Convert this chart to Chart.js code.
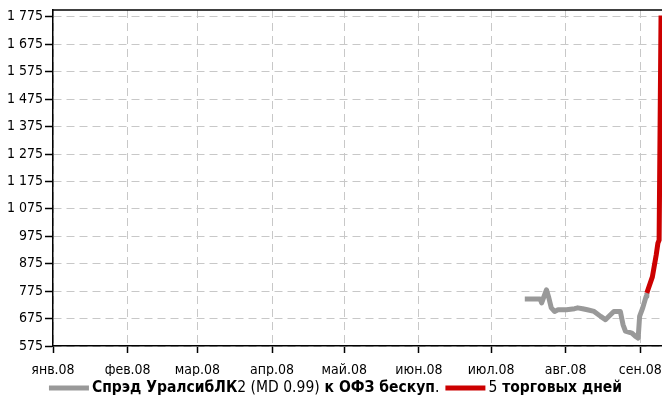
<!DOCTYPE html>
<html>
<head>
<meta charset="utf-8">
<script src="https://cdn.jsdelivr.net/npm/chart.js@4/dist/chart.umd.min.js"></script>
<style>
  html, body { margin: 0; padding: 0; background: #ffffff; }
  #wrap { width: 662px; height: 398px; position: relative; }
</style>
</head>
<body>
<div id="wrap"><canvas id="c" width="662" height="398"></canvas></div>
<script>
// ---- data (x = day of year 2008, 0 = 1 Jan) ----
const monthLabels = ['янв.08', 'фев.08', 'мар.08', 'апр.08', 'май.08', 'июн.08', 'июл.08', 'авг.08', 'сен.08'];
const monthStartDays = [0, 31, 60, 91, 121, 152, 182, 213, 244];
const yTicks = [575, 675, 775, 875, 975, 1075, 1175, 1275, 1375, 1475, 1575, 1675, 1775];

const grayDays   = [196, 202.4, 203, 205, 206, 207, 208.4, 209.8, 213.3, 216.7, 218, 220, 222, 224.8, 227.5, 229.5, 231.6, 233, 235.7, 236.8, 237.8, 240.5, 242, 243.1, 243.7, 245, 246.4, 246.7];
const grayValues = [746, 746, 732, 780, 750, 714, 701, 707, 707, 711, 714, 711, 707, 701, 683, 671, 689, 701, 701, 653, 629, 622, 610, 604, 683, 714, 756, 768];

const redDays   = [246.7, 249, 250.6, 251.3, 251.8, 252.6];
const redValues = [768, 827, 907, 950, 961, 1780];

const grayLabelParts = [['Спрэд УралсибЛК', true], ['2 (MD 0.99)', false], [' к ОФЗ бескуп', true], ['.', false]];
const redLabelParts  = [['5', false], [' торговых дней', true]];

const GRAY = '#999999';
const RED = '#cc0000';
const FONT = "'DejaVu Sans Condensed', 'Liberation Sans Narrow', 'Liberation Sans', sans-serif";

const toPoints = (xs, ys) => xs.map((x, i) => ({ x: x, y: ys[i] }));

const topBorder = {
  id: 'topBorder',
  afterDraw(chart) {
    const { ctx, chartArea } = chart;
    ctx.save();
    ctx.strokeStyle = '#000';
    ctx.lineWidth = 1.5;
    ctx.beginPath();
    ctx.moveTo(chartArea.left, chartArea.top);
    ctx.lineTo(chartArea.right, chartArea.top);
    ctx.stroke();
    ctx.restore();
  }
};

const customLegend = {
  id: 'customLegend',
  afterDraw(chart) {
    const ctx = chart.ctx;
    const y = 388;
    const size = 15.5;
    const items = [
      { color: GRAY, parts: grayLabelParts },
      { color: RED, parts: redLabelParts }
    ];
    const sample = 40, gapAfterSample = 3, gapBetween = 6;
    ctx.save();
    ctx.textBaseline = 'middle';
    let total = 0;
    const widths = items.map(it => {
      let w = sample + gapAfterSample;
      it.parts.forEach(([t, b]) => {
        ctx.font = (b ? 'bold ' : '') + size + 'px ' + FONT;
        w += ctx.measureText(t).width;
      });
      return w;
    });
    total = widths.reduce((a, b) => a + b, 0) + gapBetween;
    let x = 335.5 - total / 2;
    items.forEach((it, i) => {
      ctx.strokeStyle = it.color;
      ctx.lineWidth = 5;
      ctx.lineCap = 'butt';
      ctx.beginPath();
      ctx.moveTo(x, y);
      ctx.lineTo(x + sample, y);
      ctx.stroke();
      let tx = x + sample + gapAfterSample;
      ctx.fillStyle = '#000';
      it.parts.forEach(([t, b]) => {
        ctx.font = (b ? 'bold ' : '') + size + 'px ' + FONT;
        ctx.fillText(t, tx, y);
        tx += ctx.measureText(t).width;
      });
      x += widths[i] + gapBetween;
    });
    ctx.restore();
  }
};

new Chart(document.getElementById('c'), {
  type: 'line',
  data: {
    datasets: [
      {
        label: 'Спрэд УралсибЛК2 (MD 0.99) к ОФЗ бескуп.',
        data: toPoints(grayDays, grayValues),
        borderColor: GRAY,
        borderWidth: 5,
        pointRadius: 0,
        tension: 0,
        borderJoinStyle: 'round',
        order: 2
      },
      {
        label: '5 торговых дней',
        data: toPoints(redDays, redValues),
        borderColor: RED,
        borderWidth: 5,
        pointRadius: 0,
        tension: 0,
        borderJoinStyle: 'round',
        order: 1
      }
    ]
  },
  options: {
    responsive: false,
    animation: false,
    events: [],
    layout: { padding: { top: 10, right: 0, bottom: 22, left: 0 } },
    plugins: {
      legend: { display: false },
      title: { display: false },
      tooltip: { enabled: false }
    },
    scales: {
      x: {
        type: 'linear',
        min: 0,
        max: 253,
        afterBuildTicks(scale) { scale.ticks = monthStartDays.map(v => ({ value: v })); },
        afterFit(scale) { scale.height = 30; scale.paddingRight = 0; scale.paddingLeft = 0; },
        ticks: {
          autoSkip: false,
          maxRotation: 0,
          padding: 9,
          color: '#000',
          font: { family: FONT, size: 14 },
          callback(value) {
            const i = monthStartDays.indexOf(value);
            return i >= 0 ? monthLabels[i] : '';
          }
        },
        grid: {
          color: '#c8c8c8',
          lineWidth: 1,
          tickColor: '#000',
          tickLength: 7,
          tickWidth: 1.5
        },
        border: { display: true, color: '#000', width: 1.5, dash: [8, 5] }
      },
      y: {
        type: 'linear',
        min: 575,
        max: 1800,
        afterBuildTicks(scale) { scale.ticks = yTicks.map(v => ({ value: v })); },
        afterFit(scale) { scale.width = 53; scale.paddingTop = 0; scale.paddingBottom = 0; },
        ticks: {
          autoSkip: false,
          padding: 2,
          color: '#000',
          font: { family: FONT, size: 14 },
          callback(value) {
            return String(value).replace(/\B(?=(\d{3})+(?!\d))/g, ' ');
          }
        },
        grid: {
          color: '#c8c8c8',
          lineWidth: 1,
          tickColor: '#000',
          tickLength: 8,
          tickWidth: 1.5
        },
        border: { display: true, color: '#000', width: 1.5, dash: [8, 5] }
      }
    }
  },
  plugins: [topBorder, customLegend]
});
</script>
</body>
</html>
